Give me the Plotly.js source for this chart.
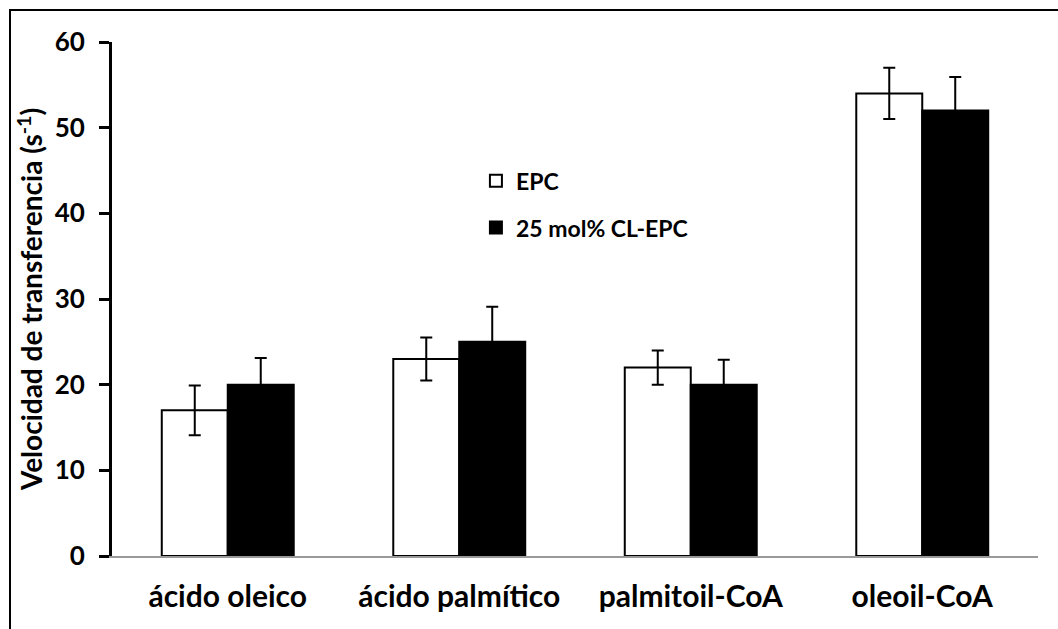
<!DOCTYPE html>
<html>
<head>
<meta charset="utf-8">
<script src="https://cdn.plot.ly/plotly-3.0.1.min.js"></script>
<style>
  html, body { margin: 0; padding: 0; background: #fff; }
  #wrap { position: relative; width: 1058px; height: 629px; overflow: hidden; }
  #chart { width: 1058px; height: 629px; }
  #frame {
    position: absolute; left: 9px; top: 9px; width: 1100px; height: 700px;
    border-left: 2px solid #000; border-top: 2px solid #000; pointer-events: none;
  }
</style>
</head>
<body>
<div id="wrap">
  <div id="chart"></div>
  <div id="frame"></div>
</div>
<script>
// Lipid transfer rates for each donor species
const categories = ['ácido oleico', 'ácido palmítico', 'palmitoil-CoA', 'oleoil-CoA'];

const seriesNames = ['EPC', '25 mol% CL-EPC'];
const epcValues = [17, 23, 22, 54];
const epcErrors = [2.9, 2.5, 2.0, 3.0];
const clValues = [20, 25, 20, 52];
const clErrors = [3.1, 4.1, 2.9, 3.9];

const yTicks = [0, 10, 20, 30, 40, 50, 60];

const fontFamily = 'Lato, Carlito, "Open Sans", sans-serif';

const traces = [
  {
    type: 'bar',
    name: seriesNames[0],
    legendgroup: 'a',
    x: categories,
    y: epcValues,
    marker: { color: '#ffffff', line: { color: '#000000', width: 2 } },
    error_y: { type: 'data', array: epcErrors, visible: true, color: '#000000', thickness: 2, width: 6 }
  },
  {
    type: 'bar',
    name: seriesNames[1],
    legendgroup: 'b',
    x: categories,
    y: clValues,
    marker: { color: '#000000', line: { color: '#000000', width: 2 } },
    error_y: { type: 'data', array: clErrors, visible: true, color: '#000000', thickness: 2, width: 6 }
  }
];

const layout = {
  width: 1058,
  height: 629,
  margin: { l: 112, r: 20, t: 41.5, b: 72.5 },
  paper_bgcolor: '#ffffff',
  plot_bgcolor: '#ffffff',
  barmode: 'group',
  bargap: 0.43,
  bargroupgap: 0,
  font: { family: fontFamily, color: '#000000' },
  showlegend: true,
  legend: {
    x: 0.393, y: 0.772, xanchor: 'left', yanchor: 'top',
    bgcolor: 'rgba(0,0,0,0)',
    font: { family: fontFamily, size: 23, weight: 'bold', color: '#000000' },
    tracegroupgap: 14,
    itemwidth: 30
  },
  xaxis: {
    showline: true, linecolor: '#999999', linewidth: 2,
    ticks: '', showgrid: false, zeroline: false,
    tickfont: { family: fontFamily, size: 30, weight: 'bold', color: '#000000' },
    ticklabelstandoff: 13
  },
  yaxis: {
    range: [0, 60],
    tickvals: yTicks,
    ticktext: yTicks.map(String),
    showline: true, linecolor: '#000000', linewidth: 3,
    ticks: 'outside', ticklen: 10, tickwidth: 3, tickcolor: '#000000',
    showgrid: false, zeroline: false,
    tickfont: { family: fontFamily, size: 26, weight: 'bold', color: '#000000' },
    ticklabelstandoff: 9,
    title: {
      text: 'Velocidad de transferencia (s<sup>-1</sup>)',
      font: { family: fontFamily, size: 28, weight: 'bold', color: '#000000' },
      standoff: 4
    }
  }
};

Plotly.newPlot('chart', traces, layout, { staticPlot: true, displayModeBar: false });
</script>
</body>
</html>
